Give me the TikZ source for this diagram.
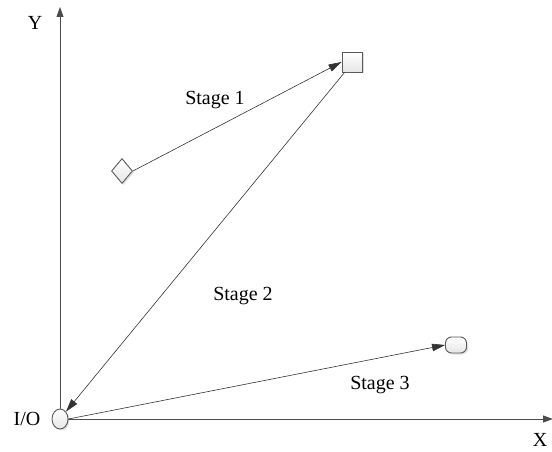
\documentclass[tikz,border=0pt]{standalone}
\usepackage{fontspec}
\setmainfont{Liberation Serif}
\usetikzlibrary{arrows.meta,shapes.geometric,shadows}
\begin{document}
\begin{tikzpicture}[x=1pt,y=-1pt,
  lbl/.style={font=\fontsize{20}{23}\selectfont, inner sep=0pt},
  shp/.style={draw=black!65, line width=0.9pt, top color=white, bottom color=black!10,
    drop shadow={shadow xshift=1.5pt, shadow yshift=-1.5pt, opacity=0.25}, inner sep=0pt},
  axis/.style={draw=black!70, line width=0.9pt, -{Triangle[length=10pt,width=7pt]}},
  conn/.style={draw=black!80, line width=0.6pt, -{Triangle[length=13pt,width=7.5pt]}}]
\useasboundingbox (0,0) rectangle (552,452);
\coordinate (o) at (60,419);
\coordinate (ytip) at (60,7);
\coordinate (xtip) at (553,419);
\draw[axis] (o) -- (ytip);
\draw[axis] (o) -- (xtip);
\node[shp, ellipse, minimum width=16pt, minimum height=20pt] (io) at (60,419) {};
\node[shp, rectangle, minimum size=20pt] (sq) at (352,62) {};
\node[shp, diamond, minimum width=21pt, minimum height=25pt] (dm) at (122,171) {};
\node[shp, rectangle, rounded corners=6pt, minimum width=21pt, minimum height=16pt] (rr) at (456,345) {};
\node[lbl] (ylab) at (35,23) {Y};
\node[lbl] (xlab) at (540,440) {X};
\node[lbl] (iolab) at (27,419) {I/O};
\node[lbl] (s1) at (215,100) {Stage 1};
\node[lbl] (s2) at (243,296) {Stage 2};
\node[lbl] (s3) at (380,385) {Stage 3};
\draw[conn] (dm.east) -- (sq.west);
\draw[conn] (sq.south west) ++(3pt,0) coordinate (sqs) (sqs) -- (io.north east);
\draw[conn] (io.east) -- (rr.west);
\end{tikzpicture}
\end{document}
